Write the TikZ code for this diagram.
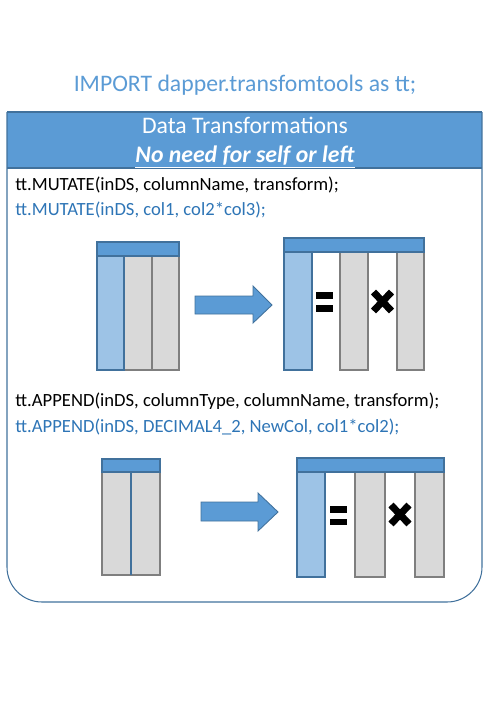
\documentclass[tikz,border=0pt]{standalone}
\usepackage{fontspec}
\setmainfont{Carlito}
\definecolor{officeblue}{HTML}{5B9BD5}
\definecolor{officeedge}{HTML}{41719C}
\definecolor{lightcol}{HTML}{9DC3E6}
\definecolor{greycol}{HTML}{D9D9D9}
\definecolor{greyedge}{HTML}{7F7F7F}
\definecolor{codeblue}{HTML}{2E75B6}

\begin{document}
\begin{tikzpicture}[x=0.02cm, y=-0.02cm,
  titletxt/.style={font=\fontsize{13.5}{16}\selectfont, text=officeblue, anchor=base, inner sep=0pt},
  headtxt/.style={font=\fontsize{13.5}{16}\selectfont, text=white, anchor=base, inner sep=0pt},
  code/.style={font=\fontsize{10.6}{13}\selectfont, anchor=base west, inner sep=0pt},
  boxline/.style={draw=officeedge, line width=0.6pt},
  tblhead/.style={draw=officeedge, fill=officeblue, line width=0.6pt},
  colblue/.style={draw=officeedge, fill=lightcol, line width=0.6pt},
  colgrey/.style={draw=greyedge, fill=greycol, line width=0.6pt},
  bigarrow/.style={draw=officeedge, fill=officeblue, line width=0.5pt},
  eqbar/.style={fill=black},
  timesx/.style={line width=4pt, black},
]
\useasboundingbox (0,0) rectangle (491,720);

% === Title ===
\node[titletxt] (import) at (245,91) {IMPORT dapper.transfomtools as tt;};

% === Outer box with header ===
\fill[officeblue] (7,112) rectangle (482,168);
\draw[boxline, rounded corners=0.7cm] (7,112) -- (7,602) -- (482,602) -- (482,112);
\draw[boxline] (7,112) -- (482,112);
\draw[boxline] (7,168) -- (482,168);

\node[headtxt] (head1) at (245,133) {Data Transformations};
\node[headtxt] (head2) at (245,162) {\textbf{\textit{\underline{No need for self or left}}}};

% === MUTATE ===
\node[code] (mutdef) at (15,190) {tt.MUTATE(inDS, columnName, transform);};
\node[code, text=codeblue] (mutex) at (15,215) {tt.MUTATE(inDS, col1, col2*col3);};

% input table
\draw[colblue] (97,256) rectangle (124,370);
\draw[colgrey] (124,256) rectangle (152,370);
\draw[colgrey] (152,256) rectangle (179,370);
\draw[colblue] (97,256) rectangle (124,370);
\draw[tblhead] (97,242) rectangle (179,256);

% arrow
\draw[bigarrow] (195,296) -- (253,296) -- (253,286) -- (272,305) -- (253,323) -- (253,314) -- (195,314) -- cycle;

% output table
\draw[colblue] (284,252) rectangle (312,370);
\draw[colgrey] (340,252) rectangle (368,370);
\draw[colgrey] (397,252) rectangle (424,370);
\draw[tblhead] (284,238) rectangle (424,252);
\fill[eqbar] (316,292) rectangle (333,298.5);
\fill[eqbar] (316,305) rectangle (333,311.5);
\draw[timesx] (373.5,292) -- (391.5,311);
\draw[timesx] (373.5,311) -- (391.5,292);

% === APPEND ===
\node[code] (appdef) at (15,406) {tt.APPEND(inDS, columnType, columnName, transform);};
\node[code, text=codeblue] (appex) at (15,432) {tt.APPEND(inDS, DECIMAL4\_2, NewCol, col1*col2);};

% input table
\draw[colgrey] (102,472) rectangle (131,575);
\draw[colgrey] (131,472) rectangle (160,575);
\draw[officeedge, line width=0.6pt] (131,472) -- (131,575);
\draw[tblhead] (102,459) rectangle (160,472);

% arrow
\draw[bigarrow] (201,502) -- (258,502) -- (258,493) -- (278,512) -- (258,531) -- (258,521) -- (201,521) -- cycle;

% output table
\draw[colblue] (297,472) rectangle (325,577);
\draw[colgrey] (355,472) rectangle (385,577);
\draw[colgrey] (415,472) rectangle (444,577);
\draw[tblhead] (297,458) rectangle (444,472);
\fill[eqbar] (330,506) rectangle (347,512.5);
\fill[eqbar] (330,518.5) rectangle (347,525);
\draw[timesx] (391,505) -- (409,524);
\draw[timesx] (391,524) -- (409,505);
\end{tikzpicture}
\end{document}
